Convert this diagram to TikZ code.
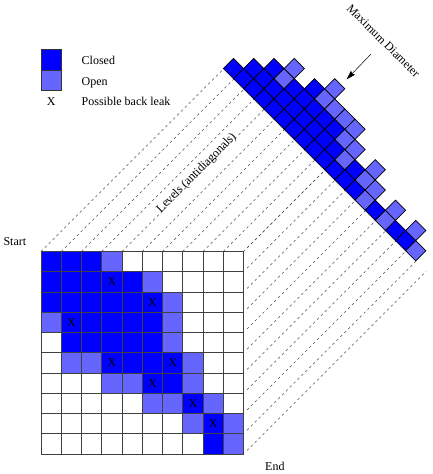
\documentclass[tikz,border=0pt]{standalone}
\usepackage{fontspec}
\setmainfont{Liberation Serif}
\usetikzlibrary{arrows.meta}
\definecolor{closedc}{RGB}{0,0,255}
\definecolor{openc}{RGB}{102,102,255}
\begin{document}
\begin{tikzpicture}[x=1pt,y=-1pt,font=\fontsize{12}{14}\selectfont,
  cellc/.style={fill=closedc},
  cello/.style={fill=openc},
  cellw/.style={fill=white},
  gridline/.style={draw=black!75,line width=0.7pt},
  dia/.style={draw=black,line width=0.6pt},
  levelline/.style={draw=black!70,line width=0.5pt,dash pattern=on 2.5pt off 3pt},
  lbl/.style={inner sep=0pt}]
\useasboundingbox (0,0) rectangle (432,474);

% dashed level lines from the grid corners to the level strips
\foreach \m in {0,...,10} {
  \pgfmathsetmacro{\px}{41+20.25*\m}
  \pgfmathsetmacro{\py}{251.5}
  \pgfmathsetmacro{\dd}{(154.875-\px+\py)/2}
  \coordinate (ts\m) at (\px,\py);
  \coordinate (te\m) at (\px+\dd,\py-\dd);
  \draw[levelline] (ts\m) -- (te\m);
}
\foreach \m in {0,...,10} {
  \pgfmathsetmacro{\px}{243.5}
  \pgfmathsetmacro{\py}{251.5+20.25*\m}
  \pgfmathsetmacro{\dd}{(154.875-\px+\py)/2}
  \coordinate (rs\m) at (\px,\py);
  \coordinate (re\m) at (\px+\dd,\py-\dd);
  \draw[levelline,shorten <=5pt] (rs\m) -- (re\m);
}

% grid cells
\foreach \i/\codes in {
  0/{c,c,c,o,w,w,w,w,w,w},
  1/{c,c,c,c,c,o,w,w,w,w},
  2/{c,c,c,c,c,c,o,w,w,w},
  3/{o,c,c,c,c,c,o,w,w,w},
  4/{w,c,c,c,c,c,o,w,w,w},
  5/{w,o,o,c,c,c,c,o,w,w},
  6/{w,w,w,o,o,c,c,o,w,w},
  7/{w,w,w,w,w,o,o,c,o,w},
  8/{w,w,w,w,w,w,w,o,c,o},
  9/{w,w,w,w,w,w,w,w,c,o}} {
  \foreach \k [count=\j from 0] in \codes {
    \path[cell\k] (41+20.25*\j,251.5+20.25*\i) rectangle ++(20.25,20.25);
  }
}
\foreach \m in {0,...,10} {
  \draw[gridline] (41,251.5+20.25*\m) -- (243.5,251.5+20.25*\m);
  \draw[gridline] (41+20.25*\m,251.5) -- (41+20.25*\m,454);
}
\foreach \i/\j in {1/3,2/5,3/1,5/3,5/6,6/5,7/7,8/8} {
  \node[lbl] (x\i\j) at (41+20.25*\j+10.125,251.5+20.25*\i+10.125) {X};
}

% levels laid out as diamonds
\foreach \a/\codes in {0/{c},1/{c,c},2/{c,c,c},3/{c,c,o,o},4/{c,c,c},
  5/{c,c,c,c},6/{c,c,c,o,o},7/{c,c,c,o},8/{c,c,c,o},9/{c,c,o,o},
  10/{c,o,o},11/{c,c},12/{c,o,o},13/{o,o},14/{c},15/{o,o},16/{c},
  17/{c,o},18/{o}} {
  \foreach \k [count=\b from 0] in \codes {
    \pgfmathsetmacro{\cx}{233.5+10.125*(\a+\b)}
    \pgfmathsetmacro{\cy}{68.5+10.125*(\a-\b)}
    \draw[dia,cell\k] (\cx-10.125,\cy) -- (\cx,\cy-10.125) -- (\cx+10.125,\cy) -- (\cx,\cy+10.125) -- cycle;
  }
}

% legend
\node[draw=black!80,line width=0.6pt,fill=closedc,minimum size=20.5pt,inner sep=0pt] (legc) at (51.25,59.75) {};
\node[draw=black!80,line width=0.6pt,fill=openc,minimum size=20.5pt,inner sep=0pt] (lego) at (51.25,80.25) {};
\node[lbl,anchor=base west] (legct) at (81.5,64.3) {Closed};
\node[lbl,anchor=base west] (legot) at (81.5,85) {Open};
\node[lbl,anchor=base] (legx) at (51.2,105.3) {X};
\node[lbl,anchor=base west] (legxt) at (81.5,105.3) {Possible back leak};

% labels
\node[lbl,anchor=base west] (start) at (3.3,245.7) {Start};
\node[lbl,anchor=base west] (end) at (265,470) {End};
\node[lbl,rotate=45] (levels) at (196.7,173.3) {Levels (antidiagonals)};
\node[lbl,rotate=-45] (maxd) at (383.5,41) {Maximum Diameter};
\coordinate (arS) at (370.7,54.3);
\coordinate (arE) at (346.7,79.3);
\draw[line width=0.5pt,-{Stealth[length=9pt,width=5.5pt,inset=1pt]}] (arS) -- (arE);
\end{tikzpicture}
\end{document}
